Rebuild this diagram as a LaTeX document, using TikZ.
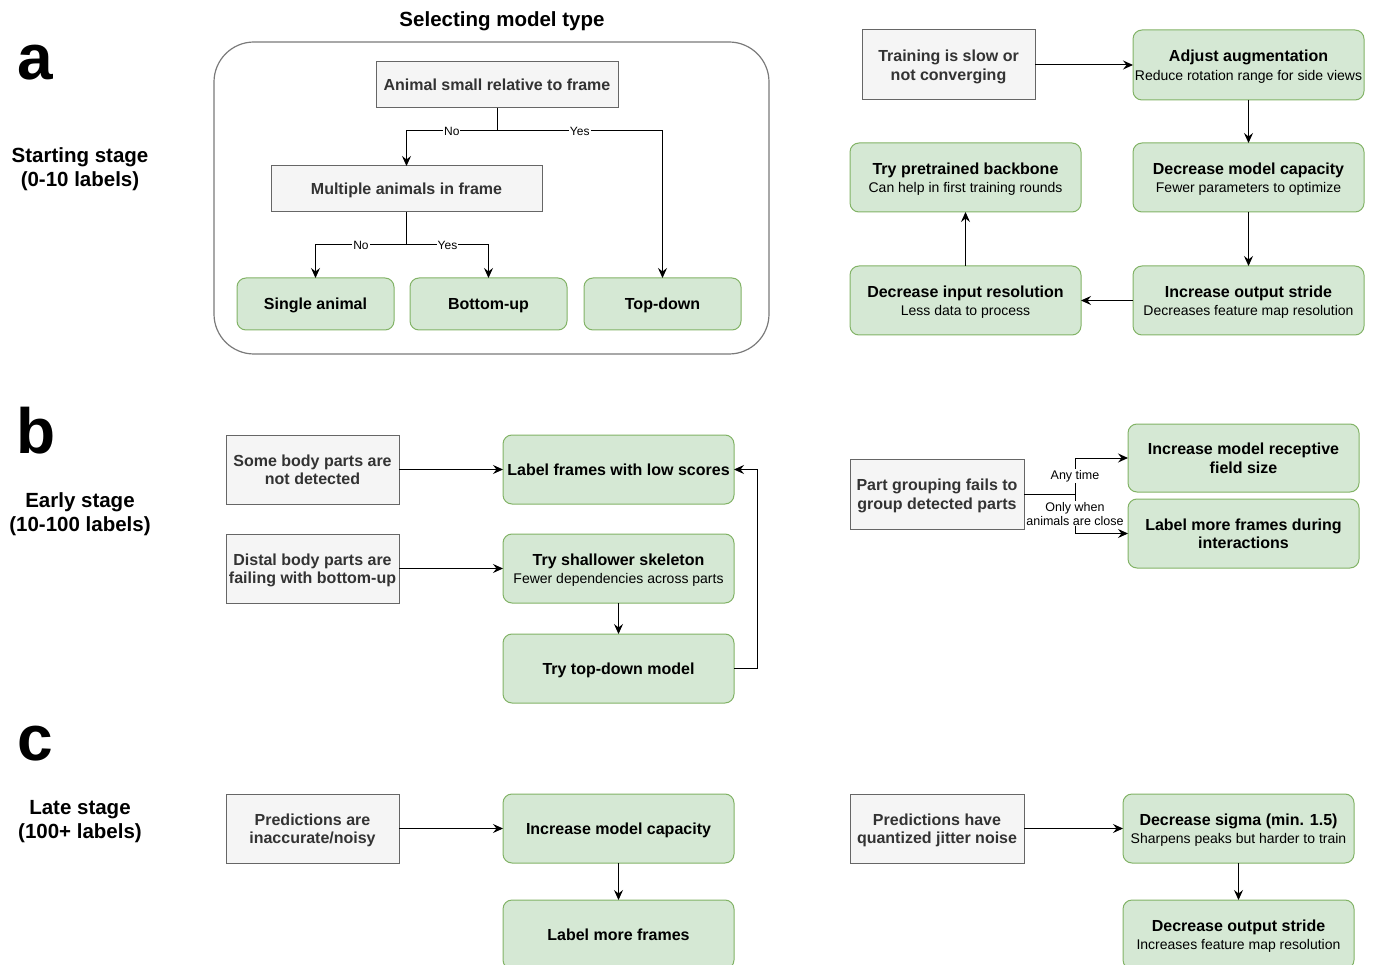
\documentclass[tikz,border=0pt]{standalone}
\usepackage{fontspec}
\setmainfont{Liberation Sans}
\usetikzlibrary{arrows.meta}
\definecolor{gfill}{HTML}{F5F5F5}
\definecolor{gline}{HTML}{666666}
\definecolor{gtext}{HTML}{333333}
\definecolor{vfill}{HTML}{D5E8D4}
\definecolor{vline}{HTML}{82B366}
\definecolor{cline}{HTML}{7A7A7A}
\newcommand\ttl[1]{{\fontsize{16}{19}\selectfont\bfseries #1}}
\newcommand\sbt[1]{{\fontsize{14}{17}\selectfont\mdseries #1}}
\begin{document}
\begin{tikzpicture}[x=1pt,y=-1pt,
 base/.style={line width=1pt, inner sep=0pt, outer sep=0pt, align=center, text depth=-3pt, font=\fontsize{16}{18.5}\selectfont\bfseries},
 gbox/.style={base, draw=gline, fill=gfill, text=gtext},
 vbox/.style={base, draw=vline, fill=vfill, text=black, rounded corners=9pt},
 arr/.style={line width=1pt, -{Stealth[length=10pt,width=9pt,inset=3.5pt]}},
 lbl/.style={fill=white, inner sep=1pt, font=\fontsize{12}{14}\selectfont, align=center},
 stage/.style={anchor=base, align=center, font=\fontsize{20.5}{24}\selectfont\bfseries},
 letter/.style={anchor=base west, inner sep=0pt, font=\fontsize{64}{64}\selectfont\bfseries}
]
\useasboundingbox (0,0) rectangle (1373,965);

% ---------- panel letters and stage labels
\node[letter] (la) at (17,80) {a};
\node[letter] (lb) at (16,453) {b};
\node[letter] (lc) at (17,760) {c};
\node[stage] (sa) at (80,187) {Starting stage\\(0-10 labels)};
\node[stage] (sb) at (80,531) {Early stage\\(10-100 labels)};
\node[stage] (sc) at (80,838) {Late stage\\(100+ labels)};

% ---------- panel a: selecting model type
\node[anchor=base, font=\fontsize{20.5}{24}\selectfont\bfseries] (selt) at (502,27) {Selecting model type};
\node[draw=cline, line width=1.2pt, rounded corners=40pt, minimum width=555pt, minimum height=312pt] (cont) at (491.5,198) {};

\node[gbox, minimum width=242pt, minimum height=46pt] (n1) at (497,85) {Animal small relative to frame};
\node[gbox, minimum width=271pt, minimum height=46pt] (n2) at (406.5,189) {Multiple animals in frame};
\node[vbox, minimum width=157pt, minimum height=52pt] (n3) at (315.5,304) {Single animal};
\node[vbox, minimum width=157pt, minimum height=52pt] (n4) at (488.5,304) {Bottom-up};
\node[vbox, minimum width=157pt, minimum height=52pt] (n5) at (662.5,304) {Top-down};

\coordinate (j1) at (497,131);
\coordinate (j2) at (406.5,245);
\draw[line width=1pt] (n1.south) -- (j1);
\draw[arr] (j1) -| node[lbl,pos=0.25]{No} (n2.north);
\draw[arr] (j1) -| node[lbl,pos=0.25]{Yes} (n5.north);
\draw[line width=1pt] (n2.south) -- (j2);
\draw[arr] (j2) -| node[lbl,pos=0.25]{No} (n3.north);
\draw[arr] (j2) -| node[lbl,pos=0.25]{Yes} (n4.north);

% ---------- top right: training problems
\node[gbox, minimum width=173pt, minimum height=70pt] (t1) at (948.5,65) {Training is slow or\\not converging};
\node[vbox, minimum width=231pt, minimum height=70pt] (t2) at (1248.5,65) {\ttl{Adjust augmentation}\\\sbt{Reduce rotation range for side views}};
\node[vbox, minimum width=231pt, minimum height=69pt] (t3) at (1248.5,177.5) {\ttl{Decrease model capacity}\\\sbt{Fewer parameters to optimize}};
\node[vbox, minimum width=231pt, minimum height=69pt] (t4) at (1248.5,300.5) {\ttl{Increase output stride}\\\sbt{Decreases feature map resolution}};
\node[vbox, minimum width=231pt, minimum height=69pt] (t5) at (965.5,300.5) {\ttl{Decrease input resolution}\\\sbt{Less data to process}};
\node[vbox, minimum width=231pt, minimum height=69pt] (t6) at (965.5,177.5) {\ttl{Try pretrained backbone}\\\sbt{Can help in first training rounds}};
\draw[arr] (t1.east) -- (t2.west);
\draw[arr] (t2.south) -- (t3.north);
\draw[arr] (t3.south) -- (t4.north);
\draw[arr] (t4.west) -- (t5.east);
\draw[arr] (t5.north) -- (t6.south);

% ---------- panel b
\node[gbox, minimum width=173pt, minimum height=69pt] (b1) at (312.5,469.5) {Some body parts are\\not detected};
\node[vbox, minimum width=231pt, minimum height=69pt] (b2) at (618.5,469.5) {Label frames with low scores};
\node[gbox, minimum width=173pt, minimum height=69pt] (b3) at (312.5,568.5) {Distal body parts are\\failing with bottom-up};
\node[vbox, minimum width=231pt, minimum height=69pt] (b4) at (618.5,568.5) {\ttl{Try shallower skeleton}\\\sbt{Fewer dependencies across parts}};
\node[vbox, minimum width=231pt, minimum height=69pt] (b5) at (618.5,668.5) {Try top-down model};
\draw[arr] (b1.east) -- (b2.west);
\draw[arr] (b3.east) -- (b4.west);
\draw[arr] (b4.south) -- (b5.north);
\draw[arr] (b5.east) -- ++(23,0) |- (b2.east);

\node[gbox, minimum width=174pt, minimum height=70pt] (b6) at (937,494) {Part grouping fails to\\group detected parts};
\node[vbox, minimum width=231pt, minimum height=68pt] (b7) at (1243.5,458) {Increase model receptive\\field size};
\node[vbox, minimum width=231pt, minimum height=69pt] (b8) at (1243.5,533.5) {Label more frames during\\interactions};
\coordinate (bj) at (1075,494);
\draw[line width=1pt] (b6.east) -- (bj);
\draw[arr] (bj) |- node[lbl,pos=0.25,font=\fontsize{12.5}{14}\selectfont]{Any time} (b7.west);
\draw[arr] (bj) |- node[lbl,pos=0.25,font=\fontsize{12.5}{14}\selectfont]{Only when\\animals are close} (b8.west);

% ---------- panel c
\node[gbox, minimum width=173pt, minimum height=69pt] (c1) at (312.5,828.5) {Predictions are\\inaccurate/noisy};
\node[vbox, minimum width=231pt, minimum height=69pt] (c2) at (618.5,828.5) {Increase model capacity};
\node[vbox, minimum width=231pt, minimum height=69pt] (c3) at (618.5,934.5) {Label more frames};
\node[gbox, minimum width=174pt, minimum height=69pt] (c4) at (937,828.5) {Predictions have\\quantized jitter noise};
\node[vbox, minimum width=231pt, minimum height=69pt] (c5) at (1238.5,828.5) {\ttl{Decrease sigma (min. 1.5)}\\\sbt{Sharpens peaks but harder to train}};
\node[vbox, minimum width=231pt, minimum height=69pt] (c6) at (1238.5,934.5) {\ttl{Decrease output stride}\\\sbt{Increases feature map resolution}};
\draw[arr] (c1.east) -- (c2.west);
\draw[arr] (c2.south) -- (c3.north);
\draw[arr] (c4.east) -- (c5.west);
\draw[arr] (c5.south) -- (c6.north);
\end{tikzpicture}
\end{document}
